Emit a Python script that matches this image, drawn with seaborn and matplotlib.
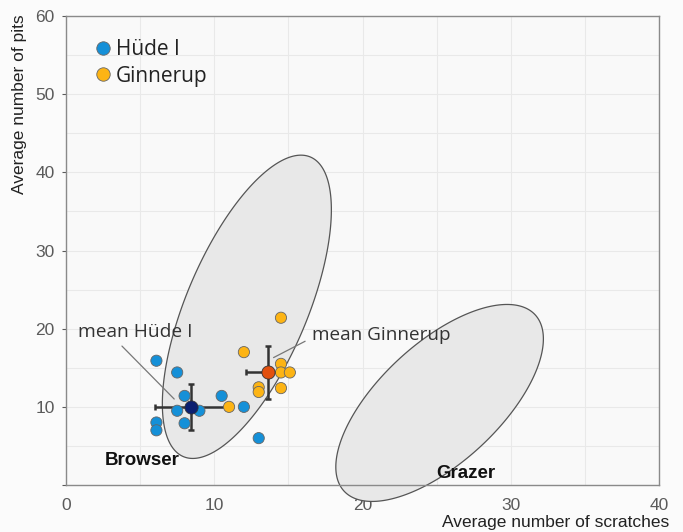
import numpy as np
import pandas as pd
import matplotlib
matplotlib.use("Agg")
import matplotlib.pyplot as plt
import seaborn as sns

# individual specimens: average scratches / pits
hude_scratches = [6.1, 7.5, 8.0, 7.5, 9.0, 8.0, 6.1, 6.1, 10.5, 12.0, 13.0]
hude_pits = [15.9, 14.4, 11.4, 9.5, 9.5, 7.9, 8.0, 7.0, 11.4, 10.0, 6.0]
ginnerup_scratches = [14.5, 12.0, 14.5, 14.5, 15.1, 14.5, 13.0, 13.0, 11.0]
ginnerup_pits = [21.4, 17.0, 15.5, 14.4, 14.4, 12.4, 12.5, 11.9, 10.0]

# means with error bars (x err, y err)
hude_mean = (8.4, 10.0)
hude_err = (2.4, 2.95)
ginnerup_mean = (13.6, 14.4)
ginnerup_err = (1.45, 3.35)

# reference ellipses: centre x, centre y, half width, half height, correlation
browser_ell = (12.2, 22.8, 5.7, 19.4, 0.64)
grazer_ell = (25.2, 10.5, 7.0, 12.6, 0.65)

blue = "#1590d8"
orange = "#fdb414"

df = pd.DataFrame({
    "scratches": hude_scratches + ginnerup_scratches,
    "pits": hude_pits + ginnerup_pits,
    "site": ["Hüde I"] * len(hude_scratches) + ["Ginnerup"] * len(ginnerup_scratches),
})

sns.set_theme(style="whitegrid")
plt.rcParams["font.family"] = ["Liberation Sans", "DejaVu Sans"]

fig = plt.figure(figsize=(6.83, 5.32), dpi=100, facecolor="#fbfbfb")
ax = fig.add_axes([0.0966, 0.0883, 0.8683, 0.8816])
ax.set_facecolor("#f9f9f9")


def ellipse_xy(e):
    cx, cy, sx, sy, rho = e
    t = np.linspace(0, 2 * np.pi, 300)
    x = cx + sx * np.cos(t)
    y = cy + sy * (rho * np.cos(t) + np.sqrt(1 - rho ** 2) * np.sin(t))
    return x, y


for e in [browser_ell, grazer_ell]:
    ex, ey = ellipse_xy(e)
    ax.fill(ex, ey, facecolor="#e8e8e8", edgecolor="#555555", lw=0.9,
            clip_on=False, zorder=1)

# error bars behind points
for m, err in [(hude_mean, hude_err), (ginnerup_mean, ginnerup_err)]:
    ax.errorbar(m[0], m[1], xerr=err[0], yerr=err[1], fmt="none",
                ecolor="#333333", elinewidth=1.8, capsize=2, capthick=1.8, zorder=2)

sns.scatterplot(data=df, x="scratches", y="pits", hue="site",
                palette={"Hüde I": blue, "Ginnerup": orange},
                s=65, edgecolor="#666666", linewidth=0.6, zorder=3, ax=ax)

ax.scatter([hude_mean[0]], [hude_mean[1]], s=90, color="#0b1f70",
           edgecolor="#333333", linewidth=0.6, zorder=4)
ax.scatter([ginnerup_mean[0]], [ginnerup_mean[1]], s=90, color="#e2500f",
           edgecolor="#333333", linewidth=0.6, zorder=4)

ax.set_xlim(0, 40)
ax.set_ylim(0, 60)
ax.set_xticks([0, 10, 20, 30, 40])
ax.set_yticks([0, 10, 20, 30, 40, 50, 60])
ax.set_xticks([5, 15, 25, 35], minor=True)
ax.set_yticks([5, 15, 25, 35, 45, 55], minor=True)
ax.set_yticklabels(["", "10", "20", "30", "40", "50", "60"])
ax.grid(True, which="both", color="#e9e9e9", lw=0.8)
ax.set_axisbelow(True)
for sp in ax.spines.values():
    sp.set_color("#8a8a8a")
    sp.set_linewidth(1.0)
ax.tick_params(axis="both", which="major", labelsize=12.5, colors="#5a5a5a",
               length=3, width=0.8, direction="out", pad=5)
ax.tick_params(axis="both", which="minor", length=0)
ax.tick_params(axis="x", bottom=False, pad=6)
ax.tick_params(axis="y", left=True)

ax.set_xlabel("Average number of scratches", fontsize=12.5, color="#222222")
ax.xaxis.set_label_coords(1.018, -0.064)
ax.xaxis.label.set_ha("right")
ax.xaxis.label.set_va("top")
ax.set_ylabel("Average number of pits", fontsize=12.5, color="#222222")
ax.yaxis.set_label_coords(-0.066, 1.003)
ax.yaxis.label.set_ha("right")
ax.yaxis.label.set_va("bottom")

ann_font = ["Open Sans", "DejaVu Sans"]
ax.annotate("mean Hüde I", xy=(7.3, 11.0), xytext=(0.8, 19.6), fontsize=13.8,
            family=ann_font, color="#333333", ha="left", va="center",
            arrowprops=dict(arrowstyle="-", color="#777777", lw=0.9,
                            relpos=(0.34, 0.0), shrinkA=2, shrinkB=0))
ax.annotate("mean Ginnerup", xy=(14.0, 16.3), xytext=(16.6, 19.2), fontsize=13.6,
            family=ann_font, color="#333333", ha="left", va="center",
            arrowprops=dict(arrowstyle="-", color="#777777", lw=0.9,
                            relpos=(0.0, 0.35), shrinkA=3, shrinkB=0))

ax.text(2.6, 3.2, "Browser", fontsize=13.5, fontweight="bold", color="#111111",
        ha="left", va="center", zorder=5)
ax.text(25.0, 1.5, "Grazer", fontsize=13.5, fontweight="bold", color="#111111",
        ha="left", va="center", zorder=5)

leg = ax.legend(loc="upper left", bbox_to_anchor=(0.0175, 0.99), frameon=False,
                handlelength=0.8, handletextpad=0.2, labelspacing=0.25,
                markerscale=1.2, prop={"family": ann_font, "size": 15})
for txt in leg.get_texts():
    txt.set_color("#222222")

fig.savefig("out.png", dpi=100, facecolor=fig.get_facecolor())
